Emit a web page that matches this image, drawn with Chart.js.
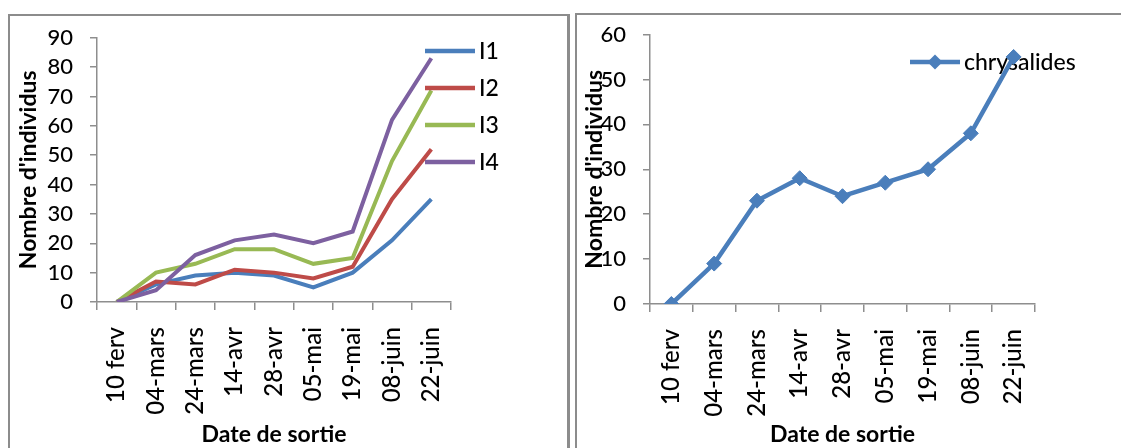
<!DOCTYPE html>
<html>
<head>
<meta charset="utf-8">
<script src="https://cdn.jsdelivr.net/npm/chart.js@4/dist/chart.umd.min.js"></script>
<style>
  html, body { margin: 0; padding: 0; background: #ffffff; overflow: hidden; }
  body { width: 1121px; height: 448px; position: relative; }
  .panel { position: absolute; box-sizing: border-box; border-style: solid; border-color: #8c8c8c; }
  #frameA { left: 8px; top: 14px; width: 562px; height: 520px; border-width: 2px 3px 0 2px; }
  #frameB { left: 575px; top: 13px; width: 620px; height: 520px; border-width: 2px 0 0 2px; }
  canvas { position: absolute; top: 0; }
  #growth { left: 0; }
  #pupae { left: 570px; }
</style>
</head>
<body>
<div class="panel" id="frameA"></div>
<div class="panel" id="frameB"></div>
<canvas id="growth" width="570" height="448"></canvas>
<canvas id="pupae" width="551" height="448"></canvas>
<script>
// Emergence dates (x categories)
const dates = ['10 ferv', '04-mars', '24-mars', '14-avr', '28-avr', '05-mai', '19-mai', '08-juin', '22-juin'];

// Larval stages: number of individuals per date
const stageI1 = [0, 6, 9, 10, 9, 5, 10, 21, 35];
const stageI2 = [0, 7, 6, 11, 10, 8, 12, 35, 52];
const stageI3 = [0, 10, 13, 18, 18, 13, 15, 48, 72];
const stageI4 = [0, 4, 16, 21, 23, 20, 24, 62, 83];
const stageNames = ['I1', 'I2', 'I3', 'I4'];

// Pupae per date
const pupae = [0, 9, 23, 28, 24, 27, 30, 38, 55];
const pupaeName = 'chrysalides';

// y-axis ranges
const growthMax = 90, growthStep = 10;
const pupaeMax = 60, pupaeStep = 10;

const axisTitleY = "Nombre d'individus";
const axisTitleX = 'Date de sortie';

const FONT = 'Lato, "Open Sans", sans-serif';
const AXIS_GREY = '#8e8e8e';
const colors = ['#4a7ebb', '#be4b48', '#98b954', '#7d60a0'];

Chart.defaults.font.family = FONT;
Chart.defaults.color = '#000000';
Chart.defaults.animation = false;

function scales(maxY, stepY, yWidth, xHeight, yTitlePad) {
  return {
    x: {
      offset: true,
      grid: { offset: true, drawOnChartArea: false, drawTicks: true, tickLength: 8, color: AXIS_GREY, lineWidth: 1.5 },
      border: { display: true, color: AXIS_GREY, width: 1.5 },
      ticks: { minRotation: 90, maxRotation: 90, autoSkip: false, padding: 17, font: { size: 24, weight: 500 }, color: '#000' },
      title: { display: true, text: axisTitleX, font: { size: 23, weight: 'bold' }, color: '#000', padding: { top: 0, bottom: 0 } },
      afterFit(s) { s.height = xHeight; }
    },
    y: {
      min: 0, max: maxY,
      grid: { drawOnChartArea: false, drawTicks: true, tickLength: 7, color: AXIS_GREY, lineWidth: 1.5 },
      border: { display: true, color: AXIS_GREY, width: 1.5 },
      ticks: { stepSize: stepY, autoSkip: false, padding: 17, font: { size: 22, weight: 500 }, color: '#000' },
      title: { display: true, text: axisTitleY, font: { size: 23, weight: 'bold' }, color: '#000', padding: { top: yTitlePad, bottom: 0 } },
      afterFit(s) { s.width = yWidth; }
    }
  };
}

// Legend for the stage chart: a line sample plus label per series
const stageLegend = {
  id: 'stageLegend',
  afterDraw(chart) {
    const ctx = chart.ctx;
    ctx.save();
    chart.data.datasets.forEach((ds, i) => {
      const y = 51 + i * 37;
      ctx.strokeStyle = ds.borderColor;
      ctx.lineWidth = 4.5;
      ctx.lineCap = 'butt';
      ctx.beginPath();
      ctx.moveTo(425, y);
      ctx.lineTo(475, y);
      ctx.stroke();
      ctx.fillStyle = '#000';
      ctx.font = '500 23px ' + FONT;
      ctx.textBaseline = 'middle';
      ctx.textAlign = 'left';
      ctx.fillText(ds.label, 479, y + 1);
    });
    ctx.restore();
  }
};

// Legend for the pupae chart, drawn under the series line
const pupaeLegend = {
  id: 'pupaeLegend',
  beforeDatasetsDraw(chart) {
    const ctx = chart.ctx;
    const ds = chart.data.datasets[0];
    const y = 62;
    ctx.save();
    ctx.strokeStyle = ds.borderColor;
    ctx.lineWidth = 4.5;
    ctx.beginPath();
    ctx.moveTo(340, y);
    ctx.lineTo(390, y);
    ctx.stroke();
    ctx.fillStyle = ds.backgroundColor;
    const cx = 365, r = 7.5;
    ctx.beginPath();
    ctx.moveTo(cx, y - r); ctx.lineTo(cx + r, y); ctx.lineTo(cx, y + r); ctx.lineTo(cx - r, y);
    ctx.closePath();
    ctx.fill();
    ctx.fillStyle = '#000';
    ctx.font = '500 23px ' + FONT;
    ctx.textBaseline = 'middle';
    ctx.textAlign = 'left';
    ctx.fillText(ds.label, 394, y + 1);
    ctx.restore();
  }
};

const stageData = [stageI1, stageI2, stageI3, stageI4];

new Chart(document.getElementById('growth'), {
  type: 'line',
  data: {
    labels: dates,
    datasets: stageData.map((vals, i) => ({
      label: stageNames[i],
      data: vals,
      borderColor: colors[i],
      backgroundColor: colors[i],
      borderWidth: 4,
      pointRadius: 0,
      tension: 0,
      order: stageData.length - i
    }))
  },
  options: {
    responsive: false,
    layout: { padding: { left: 0, right: 119, top: 37.7, bottom: 0 } },
    plugins: { legend: { display: false }, tooltip: { enabled: false } },
    scales: scales(growthMax, growthStep, 97, 146, 15)
  },
  plugins: [stageLegend]
});

new Chart(document.getElementById('pupae'), {
  type: 'line',
  data: {
    labels: dates,
    datasets: [{
      label: pupaeName,
      data: pupae,
      borderColor: colors[0],
      backgroundColor: colors[0],
      borderWidth: 4.5,
      pointStyle: 'rectRot',
      pointRadius: 7.5,
      pointBorderWidth: 1,
      tension: 0
    }]
  },
  options: {
    responsive: false,
    layout: { padding: { left: 0, right: 86, top: 34.5, bottom: 0 } },
    plugins: { legend: { display: false }, tooltip: { enabled: false } },
    scales: scales(pupaeMax, pupaeStep, 80, 144, 11)
  },
  plugins: [pupaeLegend]
});
</script>
</body>
</html>
